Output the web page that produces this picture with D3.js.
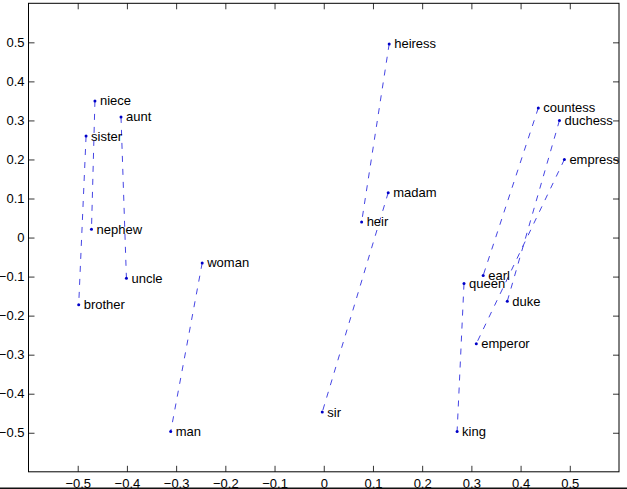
<!DOCTYPE html>
<html>
<head>
<meta charset="utf-8">
<script src="https://cdn.jsdelivr.net/npm/d3@7"></script>
<style>
  body { margin: 0; background: #fff; }
  text { font-family: "Liberation Sans", Arial, sans-serif; }
</style>
</head>
<body>
<svg id="chart" width="627" height="489"></svg>
<script>
// word pairs (female, male)
const words = ["niece", "aunt", "sister", "nephew", "uncle", "brother", "woman", "man",
  "heiress", "madam", "heir", "sir", "countess", "duchess", "empress",
  "earl", "queen", "duke", "emperor", "king"]
const xs = [-0.465, -0.412, -0.483, -0.472, -0.401, -0.498, -0.247, -0.311,
  0.133, 0.131, 0.077, -0.003, 0.436, 0.479, 0.489,
  0.324, 0.285, 0.373, 0.310, 0.271]
const ys = [0.350, 0.309, 0.260, 0.021, -0.104, -0.172, -0.065, -0.497,
  0.496, 0.115, 0.040, -0.447, 0.332, 0.300, 0.200,
  -0.097, -0.118, -0.163, -0.272, -0.497]
const pairs = [["niece", "nephew"], ["aunt", "uncle"], ["sister", "brother"], ["woman", "man"],
  ["heiress", "heir"], ["madam", "sir"], ["countess", "earl"], ["duchess", "duke"],
  ["empress", "emperor"], ["queen", "king"]]
const xTicks = [-0.5, -0.4, -0.3, -0.2, -0.1, 0, 0.1, 0.2, 0.3, 0.4, 0.5]
const yTicks = [-0.5, -0.4, -0.3, -0.2, -0.1, 0, 0.1, 0.2, 0.3, 0.4, 0.5]

const plotLeft = 28.5, plotRight = 619, plotTop = 3.3, plotBottom = 471.8
const svg = d3.select("#chart")

const x = d3.scaleLinear().domain([-0.6, 0.6]).range([plotLeft, plotRight])
const y = d3.scaleLinear().domain([-0.6, 0.6]).range([plotBottom, plotTop])

const pts = new Map(words.map((w, i) => [w, { w, x: xs[i], y: ys[i] }]))

const fmt = d => d === 0 ? "0" : d3.format(".1f")(d).replace("-", "\u2212")

// axes: ticks inside on all four sides
svg.append("g").attr("transform", `translate(0,${plotBottom})`)
  .call(d3.axisBottom(x).tickValues(xTicks).tickSizeInner(-6).tickSizeOuter(0).tickPadding(7).tickFormat(fmt))
svg.append("g").attr("transform", `translate(0,${plotTop})`)
  .call(d3.axisTop(x).tickValues(xTicks).tickSizeInner(-6).tickSizeOuter(0).tickFormat(""))
svg.append("g").attr("transform", `translate(${plotLeft},0)`)
  .call(d3.axisLeft(y).tickValues(yTicks).tickSizeInner(-6).tickSizeOuter(0).tickPadding(4).tickFormat(fmt))
svg.append("g").attr("transform", `translate(${plotRight},0)`)
  .call(d3.axisRight(y).tickValues(yTicks).tickSizeInner(-6).tickSizeOuter(0).tickFormat(""))

svg.selectAll(".domain").remove()
svg.selectAll(".tick line").attr("stroke", "#000").attr("stroke-width", 0.8)
svg.selectAll(".tick text").attr("fill", "#000").style("font-size", "13px")

svg.append("rect")
  .attr("x", plotLeft).attr("y", plotTop)
  .attr("width", plotRight - plotLeft).attr("height", plotBottom - plotTop)
  .attr("fill", "none").attr("stroke", "#000").attr("stroke-width", 1)

// dark strip along the bottom edge of the picture
svg.append("rect")
  .attr("x", 0).attr("y", 487.5)
  .attr("width", 627).attr("height", 2)
  .attr("fill", "#111")

svg.append("g").selectAll("line")
  .data(pairs)
  .enter().append("line")
  .attr("x1", d => x(pts.get(d[0]).x))
  .attr("y1", d => y(pts.get(d[0]).y))
  .attr("x2", d => x(pts.get(d[1]).x))
  .attr("y2", d => y(pts.get(d[1]).y))
  .attr("stroke", "#3030e0")
  .attr("stroke-width", 0.9)
  .attr("stroke-dasharray", "6,7")

const ptsArr = Array.from(pts.values())

svg.append("g").selectAll("circle")
  .data(ptsArr)
  .enter().append("circle")
  .attr("cx", d => x(d.x))
  .attr("cy", d => y(d.y))
  .attr("r", 1.5)
  .attr("fill", "#0000c8")

svg.append("g").selectAll("text")
  .data(ptsArr)
  .enter().append("text")
  .attr("x", d => x(d.x) + 5)
  .attr("y", d => y(d.y))
  .attr("dy", "0.35em")
  .style("font-size", "13px")
  .attr("fill", "#000")
  .text(d => d.w)
</script>
</body>
</html>
